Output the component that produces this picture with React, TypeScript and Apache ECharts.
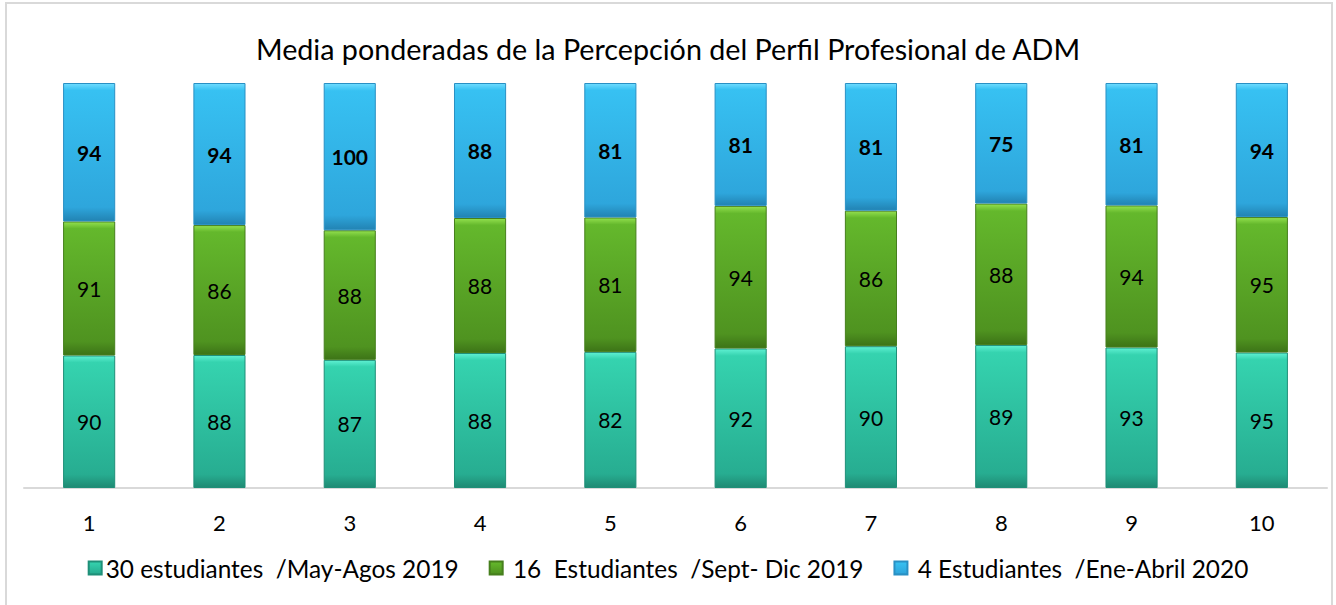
import React, { useEffect, useRef } from "react";
import * as echarts from "echarts";

const categories = ["1", "2", "3", "4", "5", "6", "7", "8", "9", "10"];
const seriesNames = [
  "30 estudiantes  /May-Agos 2019",
  " 16  Estudiantes  /Sept- Dic 2019",
  " 4 Estudiantes  /Ene-Abril 2020",
];
const mayAgos2019 = [90, 88, 87, 88, 82, 92, 90, 89, 93, 95];
const septDic2019 = [91, 86, 88, 88, 81, 94, 86, 88, 94, 95];
const eneAbril2020 = [94, 94, 100, 88, 81, 81, 81, 75, 81, 94];
const titleText = "Media ponderadas de la Percepción del Perfil Profesional de ADM";

const FONT = "Lato, 'Open Sans', sans-serif";

function grad(light: string, main: string, dark: string, edge: string) {
  return new echarts.graphic.LinearGradient(0, 0, 0, 1, [
    { offset: 0, color: light },
    { offset: 0.05, color: main },
    { offset: 0.9, color: dark },
    { offset: 1, color: edge },
  ]);
}

export default function App() {
  const ref = useRef<HTMLDivElement>(null);
  useEffect(() => {
    if (!ref.current) return;
    const chart = echarts.init(ref.current, undefined, { renderer: "svg" });
    const raw = [mayAgos2019, septDic2019, eneAbril2020];
    const totals = categories.map((_, i) => raw[0][i] + raw[1][i] + raw[2][i]);
    const styles = [
      { color: grad("#5ff0d2", "#35d3af", "#27ad91", "#1f8a73"), border: "#1f8f78", bold: false },
      { color: grad("#93e04e", "#64b82c", "#4f9320", "#3d7417"), border: "#467f1d", bold: false },
      { color: grad("#6fdcff", "#37c1f2", "#2ea6dc", "#2283b3"), border: "#2990c4", bold: true },
    ];
    chart.setOption({
      animation: false,
      title: {
        text: titleText,
        left: "center",
        top: 29,
        textStyle: { fontFamily: FONT, fontSize: 28.7, fontWeight: "normal", color: "#000" },
      },
      graphic: [
        {
          type: "rect",
          shape: { x: 6, y: 3, width: 1326, height: 620 },
          style: { fill: "none", stroke: "#d9d9d9", lineWidth: 2 },
          silent: true,
        },
      ],
      legend: {
        bottom: 20,
        left: "center",
        itemWidth: 13,
        itemHeight: 13,
        itemGap: 30,
        icon: "rect",
        textStyle: { fontFamily: FONT, fontSize: 24.4, color: "#000", padding: [0, 0, 0, -1] },
        data: seriesNames,
      },
      grid: { left: 24, right: 9, top: 83, bottom: 117 },
      xAxis: {
        type: "category",
        data: categories,
        axisLine: { lineStyle: { color: "#d9d9d9", width: 2 } },
        axisTick: { show: false },
        axisLabel: { fontFamily: FONT, fontSize: 22, color: "#000", margin: 23 },
      },
      yAxis: { type: "value", min: 0, max: 100, show: false, splitLine: { show: false } },
      series: raw.map((arr, s) => ({
        name: seriesNames[s],
        type: "bar",
        stack: "total",
        barWidth: "40%",
        data: arr.map((v, i) => ({ value: (v / totals[i]) * 100, raw: v })),
        itemStyle: { color: styles[s].color, borderColor: styles[s].border, borderWidth: 1 },
        label: {
          show: true,
          position: "inside",
          fontFamily: FONT,
          fontSize: 21,
          fontWeight: styles[s].bold ? "bold" : "normal",
          color: "#000",
          formatter: (p: any) => String(raw[s][p.dataIndex]),
        },
      })),
    });
    return () => chart.dispose();
  }, []);
  return (
    <div
      ref={ref}
      style={{ position: "fixed", left: 0, top: 0, width: 1336, height: 605, background: "#fff" }}
    />
  );
}
